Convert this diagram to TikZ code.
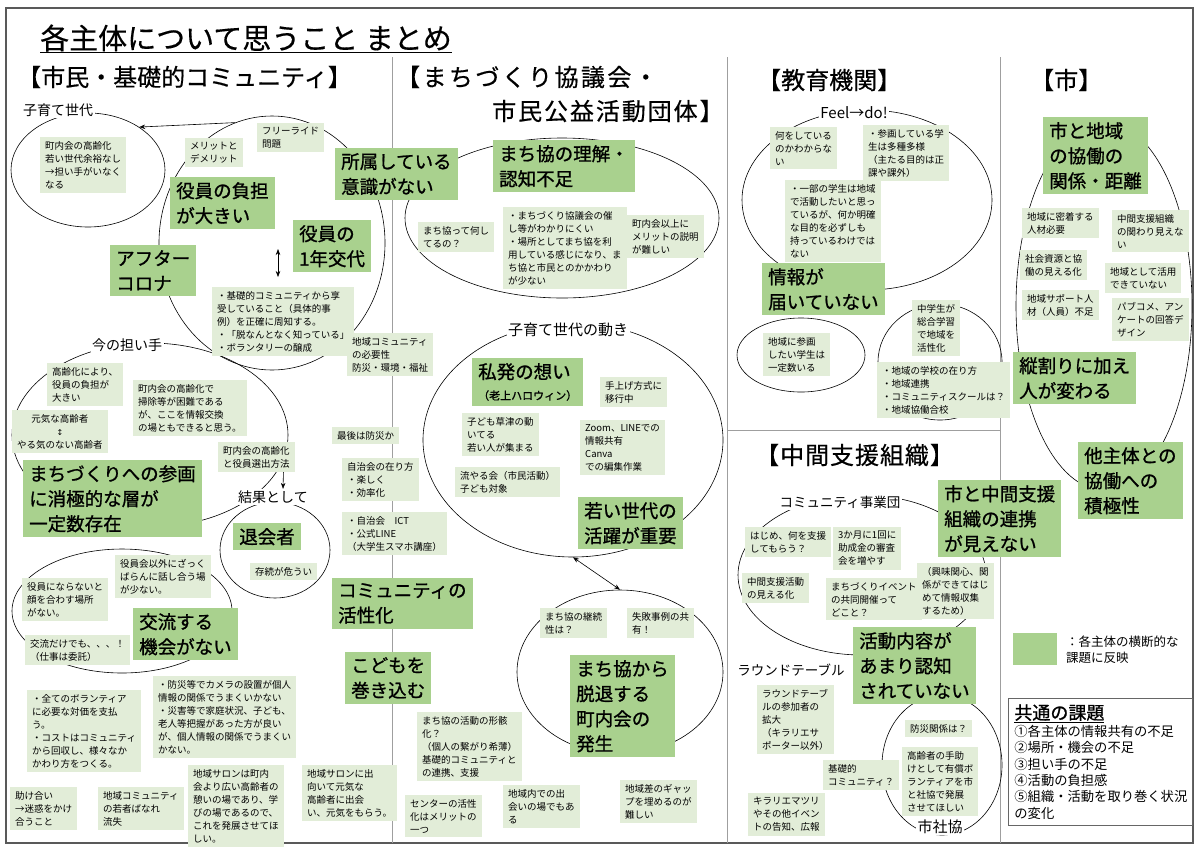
\documentclass[tikz,border=0pt]{standalone}
\usepackage{fontspec}
\setmainfont{Noto Sans CJK JP}
\newfontfamily\dv{DejaVu Sans}
\usetikzlibrary{shapes.geometric,arrows.meta}
\definecolor{dg}{HTML}{A9D18E}
\definecolor{lg}{HTML}{E2EDD8}
\begin{document}
\begin{tikzpicture}[x=1pt,y=-1pt]
\tikzset{
 lb/.style={fill=lg, anchor=north west, align=left, inner xsep=5pt, inner ysep=4pt, font=\fontsize{9.5}{13}\selectfont},
 db/.style={fill=dg, anchor=north west, align=left, inner xsep=6pt, inner ysep=5pt, font=\fontsize{18.5}{25}\selectfont\addfontfeature{FakeBold=1}},
 lab/.style={fill=white, inner sep=1.5pt, font=\fontsize{14}{16}\selectfont},
 hd/.style={anchor=west, inner sep=0pt, font=\fontsize{24}{28}\selectfont\addfontfeature{FakeBold=0.5}},
 grp/.style={draw=black, line width=0.6pt, ellipse, inner sep=0pt},
 divline/.style={draw=gray!75, line width=1pt},
 arr/.style={line width=0.6pt, -{Stealth[length=6pt,width=4.5pt]}},
 darr/.style={line width=0.6pt, {Stealth[length=6pt,width=4.5pt]}-{Stealth[length=6pt,width=4.5pt]}},
}
\useasboundingbox (0,0) rectangle (1198,847);
\fill[white] (0,0) rectangle (1198,847);
\draw[line width=1.2pt, draw=gray!70!black] (6,8) rectangle (1193,843);

% title
\node[anchor=west, inner sep=0pt, font=\fontsize{29}{32}\selectfont\addfontfeature{FakeBold=0.4}] (title) at (40,38) {各主体について思うこと まとめ};
\draw[line width=1pt] ([yshift=-1pt]title.south west) -- ([yshift=-1pt]title.south east);

% dividers
\draw[divline] (392,57) -- (392,843);
\draw[divline] (727,57) -- (727,843);
\draw[divline] (1000,57) -- (1000,843);
\draw[divline] (727,430) -- (1000,430);

% headers
\node[hd] (h1) at (17,77) {【市民・基礎的コミュニティ】};
\node[hd] (h2a) at (396,77) {\addfontfeature{LetterSpace=10}【まちづくり協議会・};
\node[hd] (h2b) at (492,111) {\addfontfeature{LetterSpace=8}市民公益活動団体】};
\node[hd] (h3) at (757,80) {【教育機関】};
\node[hd] (h4) at (1030,80) {【市】};
\node[hd] (h5) at (755,455) {\addfontfeature{LetterSpace=4}【中間支援組織】};

% group ellipses
\node[grp, minimum width=154pt, minimum height=114pt] (E1) at (88,170) {};
\node[grp, minimum width=226pt, minimum height=254pt] (E2) at (272,243) {};
\node[grp, minimum width=276pt, minimum height=184pt] (E3) at (150,435) {};
\node[grp, minimum width=110pt, minimum height=96pt] (E4) at (275,550) {};
\node[grp, minimum width=220pt, minimum height=124pt] (E5) at (122,611) {};
\node[grp, minimum width=314pt, minimum height=160pt] (EA) at (562,218) {};
\node[grp, minimum width=300pt, minimum height=234pt] (EB) at (573,440) {};
\node[grp, minimum width=206pt, minimum height=164pt] (EC) at (620,672) {};
\node[grp, minimum width=250pt, minimum height=180pt] (ED) at (867,200) {};
\node[grp, minimum width=128pt, minimum height=74pt] (EE) at (801,355) {};
\node[grp, minimum width=124pt, minimum height=116pt] (EF) at (940,362) {};
\node[grp, minimum width=248pt, minimum height=160pt] (EG) at (862,575) {};
\node[grp, minimum width=120pt, minimum height=140pt] (EH) at (942,765) {};
\node[grp, minimum width=176pt, minimum height=368pt] (EI) at (1104,306) {};

% connectors between groups
\draw[arr] (E2.107) -- (E1.40);
\draw[darr] (EB.south) -- (EC.north);
\coordinate (ua) at (278,249);
\coordinate (ub) at (278,277);
\draw[darr] (ua) -- (ub);

% labels
\node[lab] (L1) at (58,110) {子育て世代};
\node[lab] (L2) at (127,345) {今の担い手};
\node[lab] (L3) at (273,497) {結果として};
\node[lab, font=\fontsize{15}{17}\selectfont] (L4) at (568,330) {子育て世代の動き};
\node[lab, font=\fontsize{15}{17}\selectfont] (L5) at (854,113) {Feel→do!};
\node[lab, font=\fontsize{13.5}{16}\selectfont] (L6) at (840,502) {コミュニティ事業団};
\node[lab, font=\fontsize{13.5}{16}\selectfont] (L7) at (791,670) {ラウンドテーブル};
\node[lab, font=\fontsize{15}{17}\selectfont] (L8) at (940,827) {市社協};

% column 1 light boxes
\node[lb] (a1) at (40,137) {町内会の高齢化\\若い世代余裕なし\\→担い手がいなく\\なる};
\node[lb] (a2) at (185,138) {メリットと\\デメリット};
\node[lb] (a3) at (257,123) {フリーライド\\問題};
\node[lb] (a4) at (212,287) {・基礎的コミュニティから享\\受していること（具体的事\\例）を正確に周知する。\\・「脱なんとなく知っている」\\・ボランタリーの醸成};
\node[lb] (a5) at (47,363) {高齢化により、\\役員の負担が\\大きい};
\node[lb] (a6) at (133,380) {町内会の高齢化で\\掃除等が困難である\\が、ここを情報交換\\の場ともできると思う。};
\node[lb, align=center] (a7) at (12,410) {元気な高齢者\\{\dv\fontsize{8}{9}\selectfont ↕}\\やる気のない高齢者};
\node[lb] (a8) at (218,442) {町内会の高齢化\\と役員選出方法};
\node[lb] (a9) at (250,563) {存続が危うい};
\node[lb] (a10) at (115,555) {役員会以外にざっく\\ばらんに話し合う場\\が少ない。};
\node[lb] (a11) at (22,578) {役員にならないと\\顔を合わす場所\\がない。};
\node[lb] (a12) at (25,635) {交流だけでも、、、！\\（仕事は委託）};
\node[lb] (a13) at (27,690) {・全てのボランティア\\に必要な対価を支払\\う。\\・コストはコミュニティ\\から回収し、様々なか\\かわり方をつくる。};
\node[lb] (a14) at (153,676) {・防災等でカメラの設置が個人\\情報の関係でうまくいかない\\・災害等で家庭状況、子ども、\\老人等把握があった方が良い\\が、個人情報の関係でうまくい\\かない。};
\node[lb] (a15) at (10,787) {助け合い\\→迷惑をかけ\\合うこと};
\node[lb] (a16) at (98,787) {地域コミュニティ\\の若者ばなれ\\流失};
\node[lb] (a17) at (188,765) {地域サロンは町内\\会より広い高齢者の\\憩いの場であり、学\\びの場であるので、\\これを発展させてほ\\しい。};
\node[lb] (a18) at (302,765) {地域サロンに出\\向いて元気な\\高齢者に出会\\い、元気をもらう。};
\draw[arr] ([xshift=27pt]a8.south) -- ([xshift=10pt]L3.north);

% spine boxes
\node[lb] (s1) at (347,333) {地域コミュニティ\\の必要性\\防災・環境・福祉};
\node[lb] (s2) at (332,427) {最後は防災か};
\node[lb] (s3) at (342,458) {自治会の在り方\\・楽しく\\・効率化};
\node[lb] (s4) at (342,512) {・自治会　ICT\\・公式LINE\\（大学生スマホ講座）};

% column 2 light boxes
\node[lb] (b1) at (418,222) {まち協って何し\\てるの？};
\node[lb] (b2) at (503,207) {・まちづくり協議会の催\\し等がわかりにくい\\・場所としてまち協を利\\用している感じになり、ま\\ち協と市民とのかかわり\\が少ない};
\node[lb] (b3) at (627,215) {町内会以上に\\メリットの説明\\が難しい};
\node[lb] (b4) at (600,377) {手上げ方式に\\移行中};
\node[lb] (b5) at (462,413) {子ども草津の動\\いてる\\若い人が集まる};
\node[lb] (b6) at (580,420) {Zoom、LINEでの\\情報共有\\Canva\\での編集作業};
\node[lb] (b7) at (455,467) {流やる会（市民活動）\\子ども対象};
\node[lb] (b8) at (540,608) {まち協の継続\\性は？};
\node[lb] (b9) at (627,608) {失敗事例の共\\有！};
\node[lb] (b10) at (417,712) {まち協の活動の形骸\\化？\\（個人の繋がり希薄）\\基礎的コミュニティと\\の連携、支援};
\node[lb] (b11) at (405,795) {センターの活性\\化はメリットの\\一つ};
\node[lb] (b12) at (503,785) {地域内での出\\会いの場でもあ\\る};
\node[lb] (b13) at (620,780) {地域差のギャッ\\プを埋めるのが\\難しい};

% column 3 top light boxes
\node[lb] (c1) at (770,127) {何をしている\\のかわからな\\い};
\node[lb] (c2) at (863,125) {・参画している学\\生は多種多様\\（主たる目的は正\\課や課外）};
\node[lb] (c3) at (785,180) {・一部の学生は地域\\で活動したいと思っ\\ているが、何か明確\\な目的を必ずしも\\持っているわけでは\\ない};
\node[lb] (c4) at (763,333) {地域に参画\\したい学生は\\一定数いる};
\node[lb] (c5) at (912,300) {中学生が\\総合学習\\で地域を\\活性化};
\node[lb] (c6) at (877,362) {・地域の学校の在り方\\・地域連携\\・コミュニティスクールは？\\・地域協働合校};

% column 3 bottom light boxes
\node[lb] (d1) at (745,527) {はじめ、何を支援\\してもらう？};
\node[lb] (d2) at (833,527) {3か月に1回に\\助成金の審査\\会を増やす};
\node[lb] (d3) at (742,573) {中間支援活動\\の見える化};
\node[lb] (d4) at (826,578) {まちづくりイベント\\の共同開催って\\どこと？};
\node[lb] (d5) at (917,563) {（興味関心、関\\係ができてはじ\\めて情報収集\\するため）};
\node[lb] (d6) at (757,685) {ラウンドテーブ\\ルの参加者の\\拡大\\（キラリエサ\\ポーター以外）};
\node[lb] (d7) at (905,720) {防災関係は？};
\node[lb] (d8) at (902,747) {高齢者の手助\\けとして有償ボ\\ランティアを市\\と社協で発展\\させてほしい};
\node[lb] (d9) at (823,760) {基礎的\\コミュニティ？};
\node[lb] (d10) at (748,793) {キラリエマツリ\\やその他イベン\\トの告知、広報};

% column 4 light boxes
\node[lb] (e1) at (1022,208) {地域に密着する\\人材必要};
\node[lb] (e2) at (1112,210) {中間支援組織\\の関わり見えな\\い};
\node[lb] (e3) at (1020,250) {社会資源と協\\働の見える化};
\node[lb] (e4) at (1105,263) {地域として活用\\できていない};
\node[lb] (e5) at (1022,290) {地域サポート人\\材（人員）不足};
\node[lb] (e6) at (1112,298) {パブコメ、アン\\ケートの回答デ\\ザイン};

% dark boxes
\node[db] (k1) at (170,177) {役員の負担\\が大きい};
\node[db] (k2) at (335,148) {所属している\\意識がない};
\node[db] (k3) at (293,220) {役員の\\1年交代};
\node[db] (k4) at (110,245) {アフター\\コロナ};
\node[db] (k5) at (23,460) {まちづくりへの参画\\に消極的な層が\\一定数存在};
\node[db] (k6) at (233,523) {退会者};
\node[db] (k7) at (133,608) {交流する\\機会がない};
\node[db] (k8) at (332,578) {コミュニティの\\活性化};
\node[db] (k9) at (345,652) {こどもを\\巻き込む};
\node[db] (k10) at (493,140) {まち協の理解・\\認知不足};
\node[db] (k11) at (472,358) {私発の想い\\[-4pt]{\fontsize{11}{12}\selectfont （老上ハロウィン）}};
\node[db] (k12) at (578,497) {若い世代の\\活躍が重要};
\node[db] (k13) at (570,655) {まち協から\\脱退する\\町内会の\\発生};
\node[db] (k14) at (762,263) {情報が\\届いていない};
\node[db] (k15) at (938,480) {市と中間支援\\組織の連携\\が見えない};
\node[db] (k16) at (853,627) {活動内容が\\あまり認知\\されていない};
\node[db] (k17) at (1043,117) {市と地域\\の協働の\\関係・距離};
\node[db] (k18) at (1013,352) {縦割りに加え\\人が変わる};
\node[db] (k19) at (1078,442) {他主体との\\協働への\\積極性};

% legend
\node[fill=dg, anchor=north west, inner sep=0pt, minimum width=44pt, minimum height=32pt] (sw) at (1013,633) {};
\node[anchor=north west, inner sep=0pt, align=left, font=\fontsize{12.5}{15.5}\selectfont] (swt) at (1066,636) {：各主体の横断的な\\課題に反映};

\node[draw=gray!80!black, line width=0.8pt, anchor=north west, align=left, inner xsep=6pt, inner ysep=6pt, text width=172pt, font=\fontsize{13.3}{16.3}\selectfont] (common) at (1008,698)
 {{\fontsize{18}{20}\selectfont\addfontfeature{FakeBold=1}\underline{共通の課題}}\\[1pt]①各主体の情報共有の不足\\②場所・機会の不足\\③担い手の不足\\④活動の負担感\\⑤組織・活動を取り巻く状況\\の変化};
\end{tikzpicture}
\end{document}
